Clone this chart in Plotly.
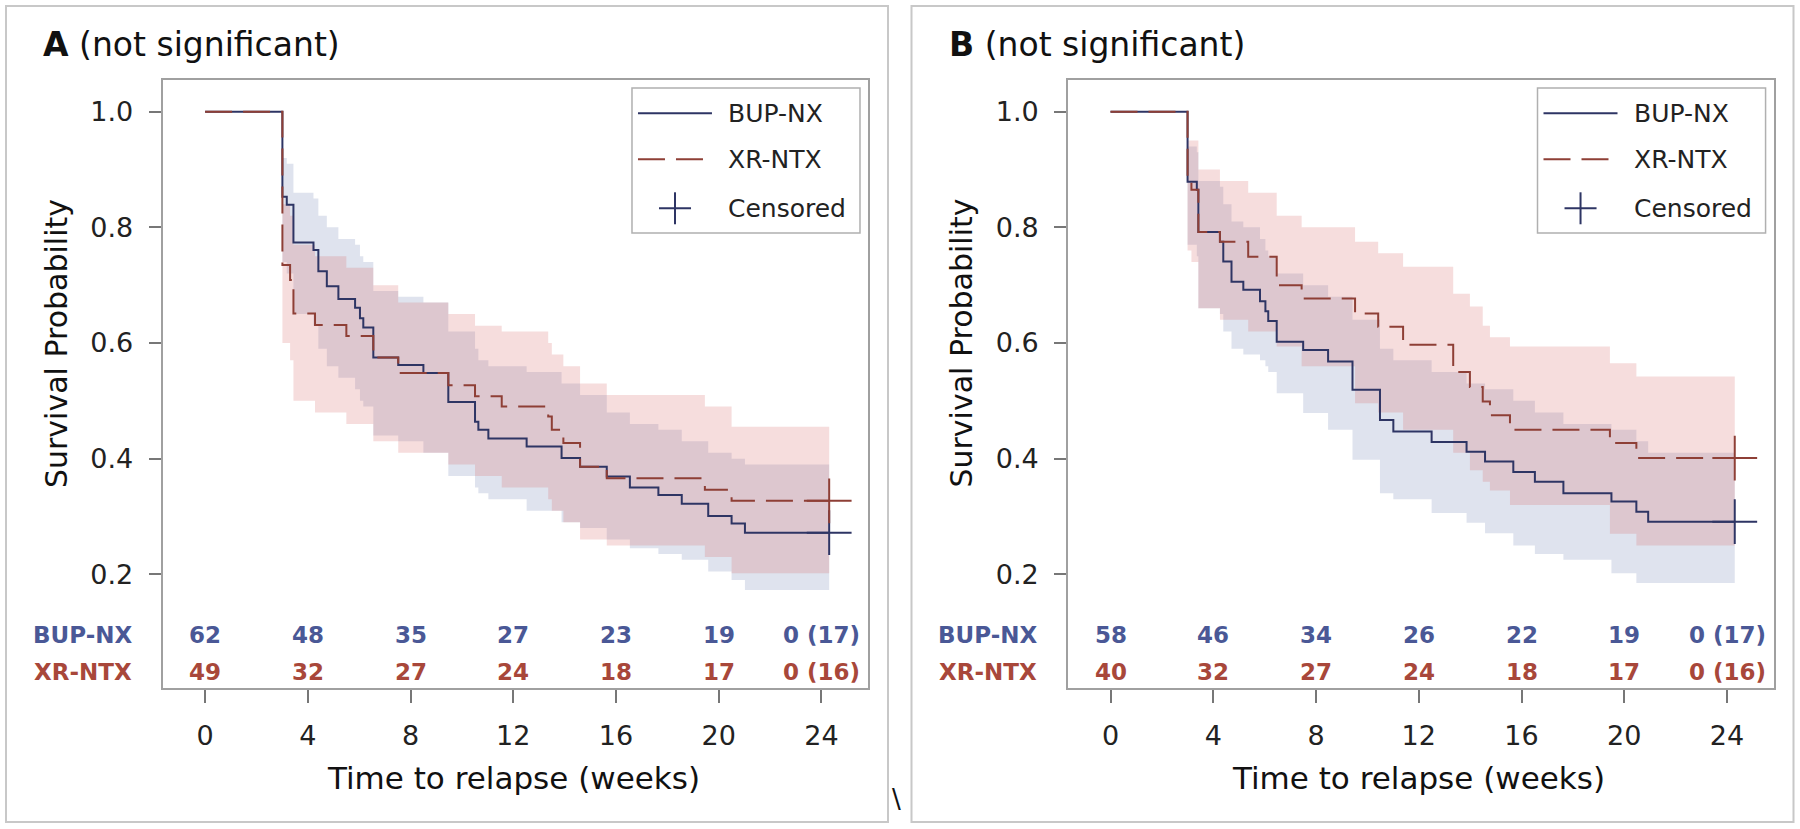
import plotly.graph_objects as go

# ---- panel A: Kaplan-Meier steps ----
a_bup_t = [3.01, 3.18, 3.44, 4.22, 4.41, 4.74, 5.19, 5.84, 6.03, 6.16, 6.55, 7.52, 8.50, 9.47,
           10.51, 10.64, 11.03, 12.52, 13.88, 14.60, 15.64, 16.54, 17.65, 18.56, 19.59, 20.50, 21.02]
a_bup_s = [0.853, 0.839, 0.774, 0.761, 0.724, 0.698, 0.676, 0.661, 0.643, 0.627, 0.575, 0.562, 0.548, 0.498,
           0.464, 0.450, 0.435, 0.421, 0.401, 0.386, 0.369, 0.350, 0.337, 0.322, 0.301, 0.288, 0.272]
a_bup_lo = [0.74, 0.72, 0.65, 0.63, 0.59, 0.56, 0.54, 0.52, 0.50, 0.49, 0.44, 0.43, 0.41, 0.37,
            0.35, 0.34, 0.33, 0.31, 0.29, 0.28, 0.26, 0.245, 0.235, 0.225, 0.205, 0.19, 0.173]
a_bup_hi = [0.92, 0.91, 0.86, 0.85, 0.82, 0.80, 0.78, 0.77, 0.75, 0.74, 0.69, 0.68, 0.67, 0.62,
            0.59, 0.57, 0.56, 0.55, 0.53, 0.51, 0.48, 0.46, 0.45, 0.43, 0.41, 0.40, 0.39]

a_xr_t = [3.01, 3.31, 3.44, 4.28, 5.50, 6.55, 7.52, 9.47, 10.51, 11.55, 13.36, 13.50, 13.95, 14.60, 15.64, 19.46, 20.50]
a_xr_s = [0.735, 0.709, 0.651, 0.631, 0.612, 0.575, 0.548, 0.527, 0.508, 0.490, 0.473, 0.450, 0.427, 0.386, 0.366, 0.346, 0.327]
a_xr_lo = [0.60, 0.57, 0.50, 0.48, 0.46, 0.43, 0.41, 0.39, 0.37, 0.35, 0.33, 0.31, 0.29, 0.26, 0.25, 0.23, 0.202]
a_xr_hi = [0.84, 0.82, 0.77, 0.75, 0.73, 0.70, 0.67, 0.65, 0.63, 0.62, 0.60, 0.58, 0.56, 0.53, 0.51, 0.49, 0.455]

# ---- panel B ----
b_bup_t = [3.00, 3.36, 3.42, 4.26, 4.39, 4.71, 5.17, 5.82, 6.03, 6.14, 6.47, 7.50, 8.47, 9.42,
           10.49, 11.01, 12.50, 13.86, 14.58, 15.68, 16.52, 17.63, 19.50, 20.47, 20.93]
b_bup_s = [0.879, 0.865, 0.792, 0.775, 0.741, 0.706, 0.692, 0.672, 0.655, 0.638, 0.602, 0.588, 0.568, 0.519,
           0.467, 0.447, 0.429, 0.412, 0.395, 0.377, 0.360, 0.340, 0.326, 0.308, 0.291]
b_bup_lo = [0.77, 0.75, 0.66, 0.65, 0.62, 0.59, 0.58, 0.57, 0.56, 0.55, 0.513, 0.479, 0.45, 0.398,
            0.34, 0.33, 0.306, 0.289, 0.271, 0.25, 0.235, 0.225, 0.202, 0.185, 0.185]
b_bup_hi = [0.94, 0.93, 0.88, 0.87, 0.84, 0.81, 0.80, 0.78, 0.76, 0.75, 0.72, 0.70, 0.68, 0.64,
            0.59, 0.57, 0.55, 0.53, 0.52, 0.50, 0.48, 0.46, 0.45, 0.43, 0.41]

b_xr_t = [3.00, 3.15, 3.42, 4.26, 5.36, 6.47, 7.44, 9.52, 10.42, 11.39, 13.34, 13.99, 14.49, 14.77, 15.55, 19.44, 20.47]
b_xr_s = [0.879, 0.865, 0.792, 0.775, 0.749, 0.700, 0.677, 0.651, 0.628, 0.597, 0.550, 0.524, 0.499, 0.475, 0.450, 0.427, 0.401]
b_xr_lo = [0.76, 0.74, 0.66, 0.64, 0.62, 0.594, 0.56, 0.496, 0.48, 0.45, 0.41, 0.38, 0.36, 0.345, 0.32, 0.27, 0.25]
b_xr_hi = [0.95, 0.95, 0.90, 0.88, 0.86, 0.82, 0.80, 0.775, 0.755, 0.732, 0.685, 0.663, 0.63, 0.61, 0.594, 0.565, 0.542]

censor_week = 24.3

# ---- numbers at risk ----
risk_weeks = [0, 4, 8, 12, 16, 20, 24]
a_risk_bup = ["62", "48", "35", "27", "23", "19", "0 (17)"]
a_risk_xr = ["49", "32", "27", "24", "18", "17", "0 (16)"]
b_risk_bup = ["58", "46", "34", "26", "22", "19", "0 (17)"]
b_risk_xr = ["40", "32", "27", "24", "18", "17", "0 (16)"]

x_ticks = [0, 4, 8, 12, 16, 20, 24]
y_ticks = [0.2, 0.4, 0.6, 0.8, 1.0]

FONT = "DejaVu Sans"
BUP_LINE = "#2e3564"
XR_LINE = "#8e3f36"
BUP_FILL = "rgba(111,126,179,0.22)"
XR_FILL = "rgba(214,100,100,0.22)"
BUP_TXT = "#4a5896"
XR_TXT = "#a8473a"
FRAME = "#a0a0a0"
DASH = "27px,11px"

fig = go.Figure()


def add_band(xa, ya, t, lo, hi, color):
    xs = [0] + t + [censor_week]
    fig.add_trace(go.Scatter(x=xs, y=[1.0] + lo + [lo[-1]], mode="lines",
                             line=dict(width=0, shape="hv"), xaxis=xa, yaxis=ya,
                             showlegend=False, hoverinfo="skip"))
    fig.add_trace(go.Scatter(x=xs, y=[1.0] + hi + [hi[-1]], mode="lines",
                             line=dict(width=0, shape="hv"), fill="tonexty", fillcolor=color,
                             xaxis=xa, yaxis=ya, showlegend=False, hoverinfo="skip"))


def add_curve(xa, ya, t, s, color, dash):
    xs = [0] + t + [censor_week]
    fig.add_trace(go.Scatter(x=xs, y=[1.0] + s + [s[-1]], mode="lines",
                             line=dict(width=2, color=color, shape="hv", dash=dash),
                             xaxis=xa, yaxis=ya, showlegend=False))
    fig.add_trace(go.Scatter(x=[censor_week], y=[s[-1]], mode="markers",
                             marker=dict(symbol="cross-thin", size=32, line=dict(width=2, color=color)),
                             xaxis=xa, yaxis=ya, showlegend=False))


panels = [
    ("x", "y", a_bup_t, a_bup_s, a_bup_lo, a_bup_hi, a_xr_t, a_xr_s, a_xr_lo, a_xr_hi, a_risk_bup, a_risk_xr, "A"),
    ("x2", "y2", b_bup_t, b_bup_s, b_bup_lo, b_bup_hi, b_xr_t, b_xr_s, b_xr_lo, b_xr_hi, b_risk_bup, b_risk_xr, "B"),
]

annotations = []
shapes = []
for i, (xa, ya, bt, bs, blo, bhi, xt, xs_, xlo, xhi, rb, rx, tag) in enumerate(panels):
    add_band(xa, ya, bt, blo, bhi, BUP_FILL)
    add_band(xa, ya, xt, xlo, xhi, XR_FILL)
    add_curve(xa, ya, bt, bs, BUP_LINE, "solid")
    add_curve(xa, ya, xt, xs_, XR_LINE, DASH)

    off = i * 905.5 / 1800
    xd = xa + " domain"
    yd = ya + " domain"

    # panel title
    annotations.append(dict(text="<b>%s</b> (not significant)" % tag, xref="paper", yref="paper",
                            x=0.0228 + off, y=0.9469, xanchor="left", yanchor="middle",
                            showarrow=False, font=dict(size=33, color="#111", family=FONT)))
    # axis titles
    annotations.append(dict(text="Time to relapse (weeks)", xref=xd, yref="paper", x=0.497, y=0.0615,
                            xanchor="center", yanchor="middle", showarrow=False,
                            font=dict(size=31, color="#111", family=FONT)))
    annotations.append(dict(text="Survival Probability", xref="paper", yref="paper", x=0.0311 + off,
                            y=0.5862, textangle=-90, xanchor="center", yanchor="middle", showarrow=False,
                            font=dict(size=30, color="#111", family=FONT)))
    # at-risk table
    for lab, vals, yy, col in (("BUP-NX", rb, 0.0872, BUP_TXT), ("XR-NTX", rx, 0.0263, XR_TXT)):
        annotations.append(dict(text="<b>%s</b>" % lab, xref=xd, yref=yd, x=-0.0414, y=yy,
                                xanchor="right", yanchor="middle", showarrow=False,
                                font=dict(size=23, color=col, family=FONT)))
        for wk, v in zip(risk_weeks, vals):
            annotations.append(dict(text="<b>%s</b>" % v, xref=xa, yref=yd, x=wk, y=yy,
                                    xanchor="center", yanchor="middle", showarrow=False,
                                    font=dict(size=23, color=col, family=FONT)))
    # legend
    shapes.append(dict(type="rect", xref=xd, yref=yd, x0=0.6654, x1=0.9887, y0=0.7484, y1=0.9868,
                       line=dict(color="#b0b0b0", width=1.5), fillcolor="rgba(255,255,255,0)"))
    shapes.append(dict(type="line", xref=xd, yref=yd, x0=0.6739, x1=0.7788, y0=0.9452, y1=0.9452,
                       line=dict(color=BUP_LINE, width=2)))
    shapes.append(dict(type="line", xref=xd, yref=yd, x0=0.6739, x1=0.7788, y0=0.8696, y1=0.8696,
                       line=dict(color=XR_LINE, width=2, dash=DASH)))
    shapes.append(dict(type="line", xref=xd, yref=yd, x0=0.7037, x1=0.7491, y0=0.7890, y1=0.7890,
                       line=dict(color=BUP_LINE, width=2)))
    shapes.append(dict(type="line", xref=xd, yref=yd, x0=0.7264, x1=0.7264, y0=0.7627, y1=0.8153,
                       line=dict(color=BUP_LINE, width=2)))
    for txt, yy in (("BUP-NX", 0.9452), ("XR-NTX", 0.8696), ("Censored", 0.7890)):
        annotations.append(dict(text=txt, xref=xd, yref=yd, x=0.7992, y=yy, xanchor="left",
                                yanchor="middle", showarrow=False,
                                font=dict(size=25, color="#222", family=FONT)))
    # outer panel border
    shapes.append(dict(type="rect", xref="paper", yref="paper", x0=6 / 1800 + off, x1=888 / 1800 + off,
                       y0=(829 - 822) / 829, y1=(829 - 6) / 829, line=dict(color="#c8c8c8", width=2)))

annotations.append(dict(text="\\", xref="paper", yref="paper", x=0.4983, y=0.016, showarrow=False,
                        font=dict(size=26, color="#111", family=FONT)))

xaxis_common = dict(range=[-1.65, 25.81], tickvals=x_ticks, ticks="outside", ticklen=13, tickwidth=1.5,
                    tickcolor="#777", showline=True, mirror=True, linecolor=FRAME, linewidth=2,
                    showgrid=False, zeroline=False, ticklabelstandoff=10,
                    tickfont=dict(size=27, color="#222", family=FONT))
yaxis_common = dict(range=[0.0034, 1.0548], domain=[0.1701, 0.9035], tickvals=y_ticks,
                    ticktext=["0.2", "0.4", "0.6", "0.8", "1.0"], ticks="outside", ticklen=12, tickwidth=1.5,
                    tickcolor="#777", showline=True, mirror=True, linecolor=FRAME, linewidth=2,
                    showgrid=False, zeroline=False, ticklabelstandoff=10,
                    tickfont=dict(size=27, color="#222", family=FONT))

fig.update_layout(
    width=1800, height=829, autosize=False,
    margin=dict(l=0, r=0, t=0, b=0),
    paper_bgcolor="white", plot_bgcolor="white",
    font=dict(family=FONT),
    showlegend=False,
    xaxis=dict(xaxis_common, domain=[0.0904, 0.4822], anchor="y"),
    yaxis=dict(yaxis_common, anchor="x"),
    xaxis2=dict(xaxis_common, domain=[0.5934, 0.9853], anchor="y2"),
    yaxis2=dict(yaxis_common, anchor="x2"),
    annotations=annotations,
    shapes=shapes,
)

# the page body has a default 8px margin; drop it so the figure sits at the window origin
fig.write_html("out.html", config={"displayModeBar": False},
               post_script="document.body.style.margin='0px';")
